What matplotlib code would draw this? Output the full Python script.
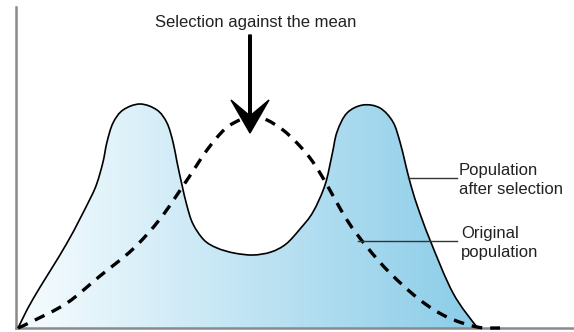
import numpy as np
import matplotlib
matplotlib.use("Agg")
import matplotlib.pyplot as plt
from matplotlib.path import Path
from matplotlib.patches import PathPatch

# curve points (x along baseline, y = height above it)
after_x = [2, 17, 51, 74, 81, 87, 91, 97, 107, 124, 141, 151, 157, 161, 166, 171, 177, 188,
           201, 218, 237, 255, 270, 284, 297, 309, 316, 321, 331, 347, 364, 377, 384, 389,
           394, 401, 414, 437, 461, 465]
after_y = [0, 29, 85, 129, 145, 166, 186, 205, 218, 224, 218, 205, 186, 166, 143, 122, 104, 88,
           80, 75, 73, 76, 84, 99, 116, 143, 173, 196, 215, 223, 220, 206, 186, 166,
           146, 123, 88, 35, 1, 0]

orig_x = [2, 17, 51, 84, 117, 144, 167, 177, 191, 209, 226, 238, 251, 267, 281, 294, 307,
          331, 351, 374, 404, 431, 461, 484]
orig_y = [0, 7, 25, 52, 79, 109, 142, 157, 178, 199, 209, 211, 208, 198, 185, 170, 150,
          108, 81, 55, 28, 11, 1, 0]

title = "Selection against the mean"
label_after = "Population\nafter selection"
label_orig = "Original\npopulation"


def smooth_path(xs, ys, close=False):
    # Catmull-Rom through the read points, handed to matplotlib as cubic Beziers
    p = np.column_stack([xs, ys]).astype(float)
    pts = np.vstack([p[0], p, p[-1]])
    verts = [p[0]]
    codes = [Path.MOVETO]
    for i in range(1, len(pts) - 2):
        p0, p1, p2, p3 = pts[i - 1], pts[i], pts[i + 1], pts[i + 2]
        verts += [p1 + (p2 - p0) / 6, p2 - (p3 - p1) / 6, p2]
        codes += [Path.CURVE4] * 3
    if close:
        verts += [p[0], p[0]]
        codes += [Path.LINETO, Path.CLOSEPOLY]
    return Path(verts, codes)


plt.rcParams['font.family'] = ['Liberation Sans', 'DejaVu Sans']

fig = plt.figure(figsize=(5.74, 3.32), dpi=100)
ax = fig.add_axes([16 / 574, 4 / 332, 558 / 574, 321 / 332])
ax.set_xlim(0, 558)
ax.set_ylim(0, 321)
for s in ['top', 'right']:
    ax.spines[s].set_visible(False)
for s in ['left', 'bottom']:
    ax.spines[s].set_color('#8a8a8a')
    ax.spines[s].set_linewidth(1.8)
ax.set_xticks([])
ax.set_yticks([])

# gradient fill under the after-selection curve
fill_patch = PathPatch(smooth_path(after_x, after_y, close=True), facecolor='none',
                       edgecolor='none')
ax.add_patch(fill_patch)
grad = np.linspace(0, 1, 256)
c0 = np.array([0.97, 0.99, 1.0])
c1 = np.array([0.54, 0.80, 0.91])
img = c0[None, None, :] + (c1 - c0)[None, None, :] * grad[None, :, None]
im = ax.imshow(img, extent=[0, 465, 0, 230], aspect='auto', origin='lower', zorder=1)
im.set_clip_path(fill_patch)

ax.add_patch(PathPatch(smooth_path(after_x, after_y), facecolor='none',
                       edgecolor='black', lw=1.2, zorder=3))

orig_line = PathPatch(smooth_path(orig_x, orig_y), facecolor='none', edgecolor='black',
                      lw=2.4, zorder=4)
orig_line.set_linestyle((0, (3.2, 2.4)))
orig_line.set_clip_on(False)
ax.add_patch(orig_line)

# arrow
ax.arrow(234, 293, 0, -98, width=2.6, head_width=38, head_length=33, overhang=0.45,
         length_includes_head=True, color='black', zorder=5)
ax.text(240, 305, title, ha='center', va='center', fontsize=12, color='#222222')

# callouts
ax.plot([392, 441], [150, 150], color='#333333', lw=1.0, zorder=5)
ax.text(443, 148, label_after, ha='left', va='center', fontsize=12, color='#222222',
        linespacing=1.3)
ax.plot([342, 441], [87, 87], color='#333333', lw=1.0, zorder=5)
ax.text(445, 85, label_orig, ha='left', va='center', fontsize=12, color='#222222',
        linespacing=1.3)

fig.savefig('out.png', dpi=100)
